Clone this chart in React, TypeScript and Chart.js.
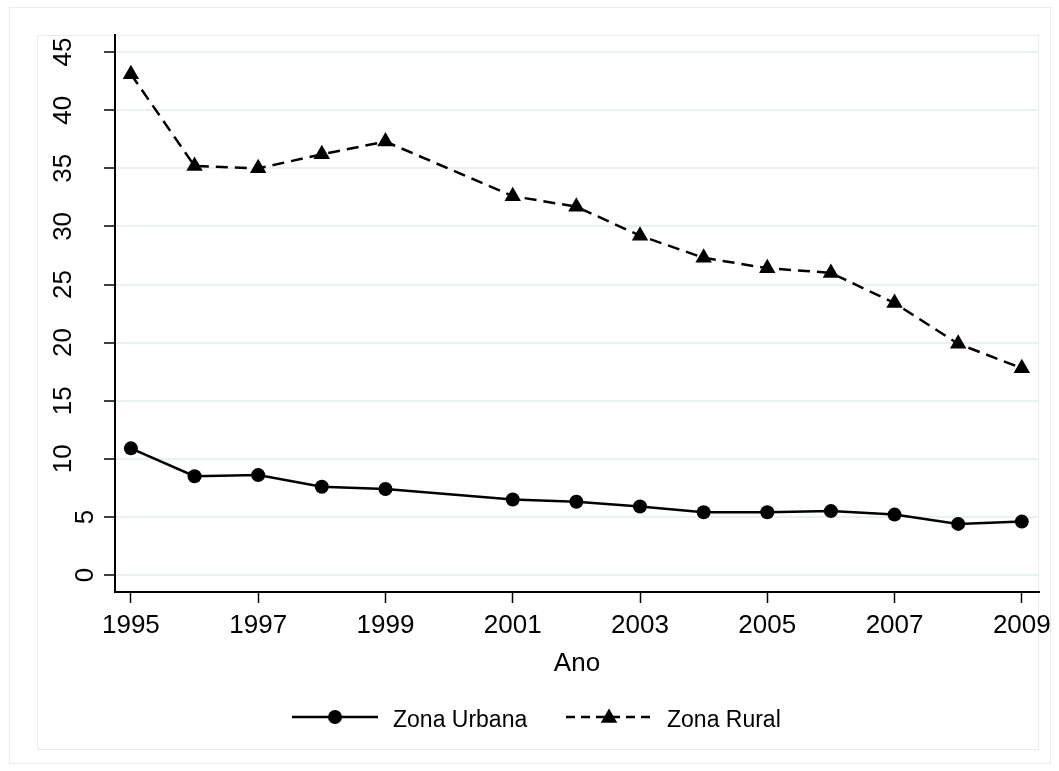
import { useEffect, useRef } from "react";
import { Chart, registerables } from "chart.js";

Chart.register(...registerables);

const years = [1995, 1996, 1997, 1998, 1999, 2001, 2002, 2003, 2004, 2005, 2006, 2007, 2008, 2009];
const zonaUrbana = [10.9, 8.5, 8.6, 7.6, 7.4, 6.5, 6.3, 5.9, 5.4, 5.4, 5.5, 5.2, 4.4, 4.6];
const zonaRural = [43.1, 35.2, 35.0, 36.2, 37.3, 32.6, 31.7, 29.2, 27.3, 26.4, 26.0, 23.4, 19.9, 17.8];
const xTickValues = [1995, 1997, 1999, 2001, 2003, 2005, 2007, 2009];
const yTickValues = [0, 5, 10, 15, 20, 25, 30, 35, 40, 45];
const seriesLabels = ["Zona Urbana", "Zona Rural"];
const xAxisTitle = "Ano";

const FONT = '"Liberation Sans", Arial, Helvetica, sans-serif';
const FRAME = "#e5edf0";

function drawTriangle(ctx: CanvasRenderingContext2D, cx: number, cy: number, r: number) {
  ctx.beginPath();
  ctx.moveTo(cx, cy - r);
  ctx.lineTo(cx + r * Math.sin((2 * Math.PI) / 3), cy - r * Math.cos((2 * Math.PI) / 3));
  ctx.lineTo(cx + r * Math.sin((4 * Math.PI) / 3), cy - r * Math.cos((4 * Math.PI) / 3));
  ctx.closePath();
  ctx.fill();
}

const decorPlugin = {
  id: "decor",
  beforeDraw(chart: any) {
    const ctx = chart.ctx as CanvasRenderingContext2D;
    ctx.save();
    ctx.fillStyle = "#ffffff";
    ctx.fillRect(0, 0, chart.width, chart.height);
    ctx.strokeStyle = FRAME;
    ctx.lineWidth = 1;
    ctx.strokeRect(9.5, 7.5, 1041, 756);
    ctx.strokeRect(37.5, 35.5, 1001, 714);
    ctx.restore();
  },
  afterDraw(chart: any) {
    const ctx = chart.ctx as CanvasRenderingContext2D;
    const xs = chart.scales.x;
    const ys = chart.scales.y;
    const area = chart.chartArea;
    ctx.save();
    ctx.fillStyle = "#000";
    ctx.font = `26px ${FONT}`;
    ctx.textBaseline = "alphabetic";
    ctx.textAlign = "center";
    xs.ticks.forEach((t: any) => {
      ctx.fillText(String(t.value), xs.getPixelForValue(t.value), 633);
    });
    ys.ticks.forEach((t: any) => {
      const label = String(t.value);
      const py = ys.getPixelForValue(t.value);
      const bx = 93 - (label.length - 1) * 22;
      ctx.save();
      ctx.translate(bx, py);
      ctx.rotate(-Math.PI / 2);
      ctx.textAlign = "center";
      ctx.fillText(label, 0, 0);
      ctx.restore();
    });
    ctx.fillText(xAxisTitle, (area.left + area.right) / 2, 671);

    // legend
    const ly = 717;
    const items = [
      { x0: 292, x1: 378, mx: 335, tx: 393 },
      { x0: 566, x1: 652, mx: 609, tx: 667 },
    ];
    chart.data.datasets.forEach((ds: any, i: number) => {
      const it = items[i];
      ctx.save();
      ctx.strokeStyle = ds.borderColor;
      ctx.lineWidth = ds.borderWidth;
      ctx.setLineDash(ds.borderDash ? [9, 6] : []);
      ctx.beginPath();
      ctx.moveTo(it.x0, ly);
      ctx.lineTo(it.x1, ly);
      ctx.stroke();
      ctx.setLineDash([]);
      ctx.fillStyle = ds.pointBackgroundColor;
      if (ds.pointStyle === "triangle") {
        drawTriangle(ctx, it.mx, ly + 1, ds.pointRadius);
      } else {
        ctx.beginPath();
        ctx.arc(it.mx, ly, ds.pointRadius, 0, Math.PI * 2);
        ctx.fill();
      }
      ctx.restore();
      ctx.font = `23px ${FONT}`;
      ctx.textAlign = "left";
      ctx.fillStyle = "#000";
      ctx.fillText(ds.label, it.tx, 727);
    });
    ctx.restore();
  },
};

export default function App() {
  const canvasRef = useRef<HTMLCanvasElement | null>(null);

  useEffect(() => {
    const canvas = canvasRef.current;
    if (!canvas) return;
    const chart = new Chart(canvas, {
      type: "line",
      data: {
        datasets: [
          {
            label: seriesLabels[0],
            data: years.map((x, i) => ({ x, y: zonaUrbana[i] })),
            borderColor: "#000",
            backgroundColor: "#000",
            borderWidth: 2.5,
            pointStyle: "circle",
            pointRadius: 7,
            pointBackgroundColor: "#000",
            pointBorderWidth: 0,
            tension: 0,
          } as any,
          {
            label: seriesLabels[1],
            data: years.map((x, i) => ({ x, y: zonaRural[i] })),
            borderColor: "#000",
            backgroundColor: "#000",
            borderWidth: 2.5,
            borderDash: [12, 7],
            pointStyle: "triangle",
            pointRadius: 9.5,
            pointBackgroundColor: "#000",
            pointBorderWidth: 0,
            tension: 0,
          } as any,
        ],
      },
      options: {
        responsive: false,
        animation: false,
        layout: { padding: { left: 0, top: 35, right: 20, bottom: 100 } },
        plugins: {
          legend: { display: false },
          tooltip: { enabled: false },
          title: { display: false },
        },
        scales: {
          x: {
            type: "linear",
            min: 1994.75,
            max: 2009.27,
            afterBuildTicks: (s: any) => {
              s.ticks = xTickValues.map((v) => ({ value: v }));
            },
            afterFit: (s: any) => {
              s.height = 79;
            },
            ticks: { display: false },
            grid: {
              drawOnChartArea: false,
              drawTicks: true,
              tickLength: 11,
              tickColor: "#000",
              tickWidth: 1.5,
            },
            border: { display: true, color: "#000", width: 2 },
          },
          y: {
            type: "linear",
            min: -1.46,
            max: 46.47,
            afterBuildTicks: (s: any) => {
              s.ticks = yTickValues.map((v) => ({ value: v }));
            },
            afterFit: (s: any) => {
              s.width = 115;
            },
            ticks: { display: false },
            grid: {
              color: "#eaf1f3",
              lineWidth: 2,
              drawTicks: true,
              tickLength: 11,
              tickColor: "#000",
              tickWidth: 1.5,
            },
            border: { display: true, color: "#000", width: 2 },
          },
        },
      } as any,
      plugins: [decorPlugin],
    });
    return () => chart.destroy();
  }, []);

  return (
    <div style={{ position: "absolute", left: 0, top: 0, width: 1059, height: 771 }}>
      <canvas ref={canvasRef} width={1059} height={771} style={{ display: "block", width: 1059, height: 771 }} />
    </div>
  );
}
